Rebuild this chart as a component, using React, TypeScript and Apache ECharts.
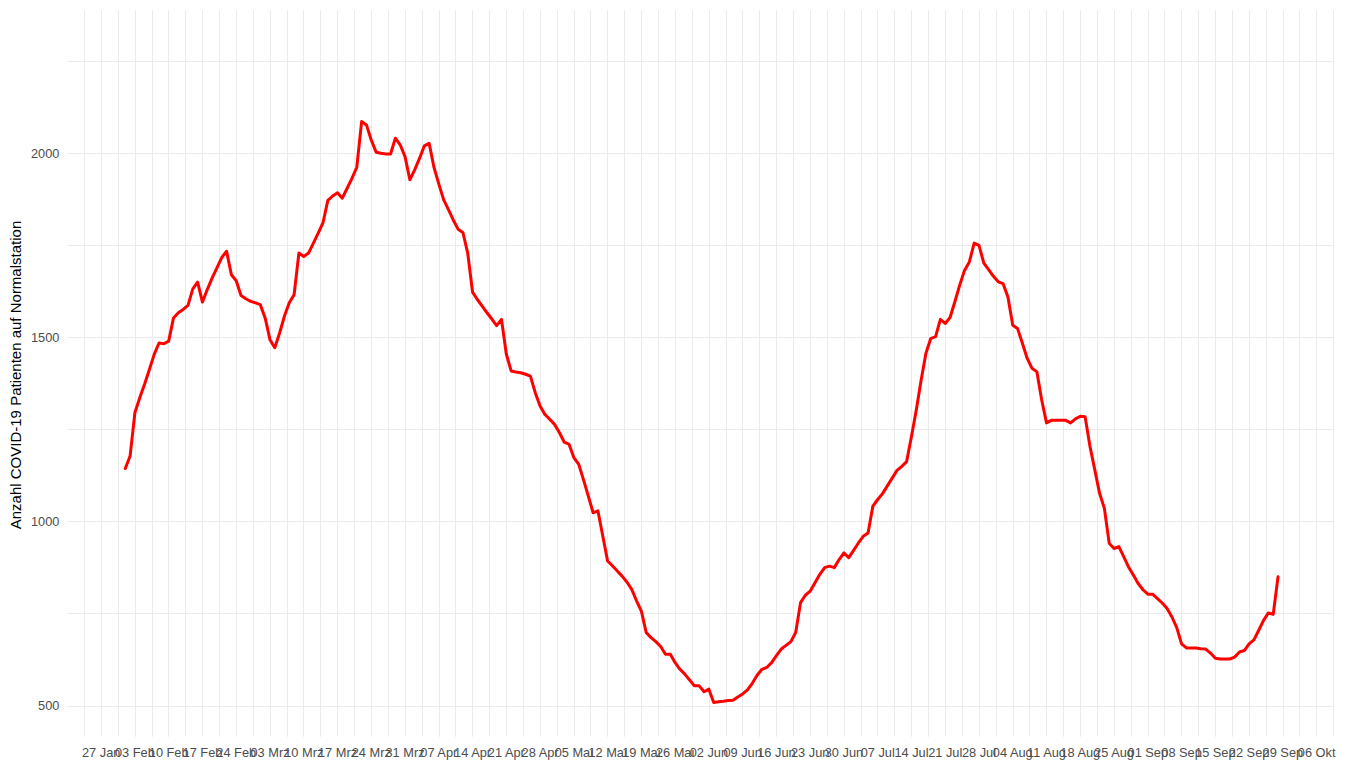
import React, { useEffect, useRef } from "react";
import * as echarts from "echarts";

// Day offsets are counted from 27 Jan (the first weekly tick).
const firstDataDay = 5; // 01 Feb

const tickLabels = [
  "27 Jan", "03 Feb", "10 Feb", "17 Feb", "24 Feb",
  "03 Mrz", "10 Mrz", "17 Mrz", "24 Mrz", "31 Mrz",
  "07 Apr", "14 Apr", "21 Apr", "28 Apr",
  "05 Mai", "12 Mai", "19 Mai", "26 Mai",
  "02 Jun", "09 Jun", "16 Jun", "23 Jun", "30 Jun",
  "07 Jul", "14 Jul", "21 Jul", "28 Jul",
  "04 Aug", "11 Aug", "18 Aug", "25 Aug",
  "01 Sep", "08 Sep", "15 Sep", "22 Sep", "29 Sep",
  "06 Okt",
];

const yTickValues = [500, 1000, 1500, 2000];

// Daily values, 01 Feb .. 28 Sep
const patients = [
  1144, 1178, 1296, 1336, 1373, 1413, 1454, 1485, 1483, 1490,
  1553, 1567, 1576, 1587, 1632, 1650, 1596, 1630, 1661, 1689,
  1717, 1734, 1670, 1654, 1614, 1605, 1598, 1594, 1589, 1553,
  1494, 1472, 1512, 1558, 1594, 1616, 1729, 1720, 1729, 1756,
  1783, 1812, 1872, 1884, 1893, 1878, 1905, 1932, 1962, 2086,
  2077, 2036, 2003, 2000, 1998, 1998, 2041, 2023, 1991, 1928,
  1955, 1986, 2020, 2027, 1962, 1917, 1874, 1847, 1819, 1794,
  1785, 1729, 1623, 1603, 1585, 1567, 1550, 1532, 1549, 1455,
  1409, 1406, 1404, 1400, 1395, 1350, 1314, 1291, 1278, 1264,
  1242, 1216, 1210, 1174, 1156, 1114, 1069, 1024, 1029, 961,
  893, 880, 866, 852, 836, 816, 785, 757, 699, 685,
  674, 661, 640, 640, 617, 599, 586, 570, 554, 554,
  538, 545, 509, 511, 512, 514, 515, 524, 532, 543,
  561, 583, 599, 604, 617, 636, 654, 664, 674, 699,
  780, 800, 811, 834, 857, 875, 879, 875, 897, 915,
  902, 922, 942, 960, 969, 1042, 1060, 1076, 1097, 1118,
  1139, 1150, 1163, 1231, 1303, 1384, 1457, 1497, 1502, 1549,
  1538, 1554, 1597, 1642, 1682, 1705, 1756, 1750, 1702, 1684,
  1666, 1651, 1646, 1610, 1533, 1524, 1484, 1443, 1416, 1407,
  1330, 1268, 1275, 1275, 1275, 1275, 1268, 1279, 1286, 1285,
  1205, 1141, 1077, 1036, 941, 927, 932, 905, 877, 855,
  832, 815, 803, 803, 791, 779, 764, 741, 712, 668,
  657, 657, 657, 655, 654, 643, 629, 627, 627, 627,
  632, 646, 650, 668, 679, 705, 732, 752, 748, 850,
];

const yTitle = "Anzahl COVID-19 Patienten auf Normalstation";

const FONT = "'Liberation Sans', Arial, sans-serif";

export default function App() {
  const ref = useRef<HTMLDivElement>(null);

  useEffect(() => {
    if (!ref.current) return;
    const chart = echarts.init(ref.current, undefined, { renderer: "svg" });
    const data = patients.map((v, i) => [firstDataDay + i, v]);

    chart.setOption({
      animation: false,
      backgroundColor: "#FFFFFF",
      textStyle: { fontFamily: FONT },
      grid: {
        left: 67.4,
        right: 12.5,
        top: 10,
        bottom: 27.3,
        containLabel: false,
        outerBoundsMode: "none",
      },
      xAxis: {
        type: "value",
        min: -7,
        max: 255.5,
        interval: 3.5,
        axisLine: { show: false },
        axisTick: { show: false },
        axisLabel: {
          margin: 9,
          color: "#4D4D4D",
          fontSize: 12.8,
          fontFamily: FONT,
          showMinLabel: true,
          showMaxLabel: true,
          formatter: (v: number) => {
            const d = Math.round(v * 10) / 10;
            if (d >= 0 && d % 7 === 0) return tickLabels[d / 7] ?? "";
            return "";
          },
        },
        splitLine: {
          show: true,
          showMinLine: false,
          showMaxLine: true,
          lineStyle: { color: "#EBEBEB", width: 1 },
        },
      },
      yAxis: {
        type: "value",
        min: 416,
        max: 2389,
        minInterval: 250,
        maxInterval: 250,
        splitNumber: 8,
        axisLine: { show: false },
        axisTick: { show: false },
        axisLabel: {
          margin: 8,
          color: "#4D4D4D",
          fontSize: 12.8,
          fontFamily: FONT,
          formatter: (v: number) =>
            yTickValues.includes(Math.round(v)) ? String(Math.round(v)) : "",
        },
        splitLine: {
          show: true,
          showMinLine: false,
          showMaxLine: false,
          lineStyle: { color: "#EBEBEB", width: 1 },
        },
      },
      graphic: [
        {
          type: "text",
          x: 15.5,
          y: 375,
          rotation: Math.PI / 2,
          style: {
            text: yTitle,
            fontSize: 15,
            fontFamily: FONT,
            fill: "#000000",
            align: "center",
            verticalAlign: "middle",
          },
        },
      ],
      series: [
        {
          type: "line",
          data,
          showSymbol: false,
          symbol: "none",
          smooth: false,
          lineStyle: { color: "#FF0000", width: 3, cap: "round", join: "round" },
          itemStyle: { color: "#FF0000" },
        },
      ],
    });

    return () => chart.dispose();
  }, []);

  return (
    <div
      ref={ref}
      style={{ position: "absolute", left: 0, top: 0, width: 1346, height: 764, background: "#fff" }}
    />
  );
}
